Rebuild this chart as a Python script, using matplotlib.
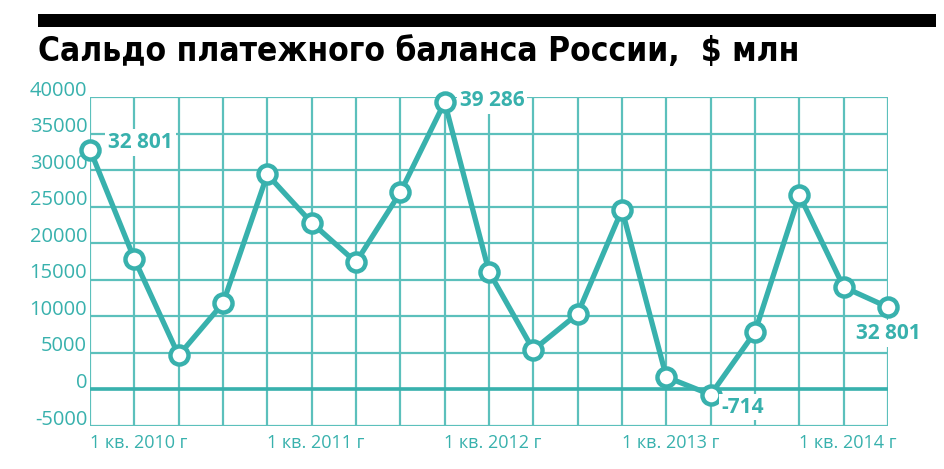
import matplotlib.pyplot as plt
import matplotlib.transforms as mtransforms

# quarterly balance of payments, $ mln (1 кв. 2010 г starts at index 1)
values = [32801, 17850, 4650, 11800, 29400, 22800, 17400, 26950, 39286,
          16100, 5400, 10350, 24600, 1700, -714, 7850, 26600, 14000, 11250]
yticks = [-5000, 0, 5000, 10000, 15000, 20000, 25000, 30000, 35000, 40000]
xlabel_pos = [1, 5, 9, 13, 17]
xlabels = ["1 кв. 2010 г", "1 кв. 2011 г", "1 кв. 2012 г", "1 кв. 2013 г", "1 кв. 2014 г"]
notes = [(0, "32 801"), (8, "39 286"), (14, "-714"), (18, "32 801")]

teal = "#38b1ad"
grid_c = "#5cc0bc"

fig = plt.figure(figsize=(9.45, 4.69), dpi=100)
ax = fig.add_axes([90 / 945, 1 - 426 / 469, 798 / 945, 329 / 469])

# black bar and title on top
fig.patches.append(plt.Rectangle((38 / 945, 1 - 27 / 469), 898 / 945, 13 / 469,
                                 transform=fig.transFigure, facecolor="black",
                                 edgecolor="none"))
fig.text(38 / 945, 1 - 52 / 469, "Сальдо платежного баланса России,  $ млн",
         family="DejaVu Sans", fontstretch="condensed", weight="bold",
         fontsize=24, va="center", ha="left", color="black")

x = list(range(len(values)))
ax.set_xlim(0, len(values) - 1)
ax.set_ylim(-5000, 40000)

for xi in x:
    ax.axvline(xi, color=grid_c, lw=1.6, zorder=1)
for yt in yticks:
    ax.axhline(yt, color=grid_c, lw=1.6, zorder=1)
ax.axhline(0, color=teal, lw=2.6, zorder=1)
for s in ax.spines.values():
    s.set_visible(False)

ax.plot(x, values, color=teal, lw=3.8, marker="o", ms=13, mfc="white",
        mec=teal, mew=3.2, zorder=3, clip_on=False)

ax.set_yticks(yticks)
ax.set_yticklabels([str(v) for v in yticks])
ax.set_xticks(xlabel_pos)
ax.set_xticklabels(xlabels)
ax.tick_params(length=0, colors=teal, labelsize=13)
ax.tick_params(axis="y", pad=2, labelsize=14.5)
ax.tick_params(axis="x", pad=6)
for lab in ax.get_yticklabels():
    lab.set_fontfamily("Open Sans")
    lab.set_transform(lab.get_transform() + mtransforms.ScaledTranslation(0, 9 / 100, fig.dpi_scale_trans))
for lab in ax.get_xticklabels():
    lab.set_fontfamily("Open Sans")
    lab.set_transform(lab.get_transform() + mtransforms.ScaledTranslation(4 / 100, 0, fig.dpi_scale_trans))

box = dict(facecolor="white", edgecolor="none", pad=2)
i, t = notes[0]
ax.annotate(t, (i, values[i]), xytext=(13, 5), textcoords="offset points",
            ha="left", va="center", fontsize=15, weight="bold", color=teal,
            family="Open Sans", bbox=box, zorder=4)
i, t = notes[1]
ax.annotate(t, (i, values[i]), xytext=(11, 1), textcoords="offset points",
            ha="left", va="center", fontsize=15, weight="bold", color=teal,
            family="Open Sans", bbox=box, zorder=4)
i, t = notes[2]
ax.annotate(t, (i, values[i]), xytext=(8, -9), textcoords="offset points",
            ha="left", va="center", fontsize=15, weight="bold", color=teal,
            family="Open Sans", bbox=box, zorder=4)
i, t = notes[3]
ax.annotate(t, (i, values[i]), xytext=(0, -19), textcoords="offset points",
            ha="center", va="center", fontsize=15, weight="bold", color=teal,
            family="Open Sans", bbox=box, zorder=4)

fig.savefig("out.png", dpi=100)
